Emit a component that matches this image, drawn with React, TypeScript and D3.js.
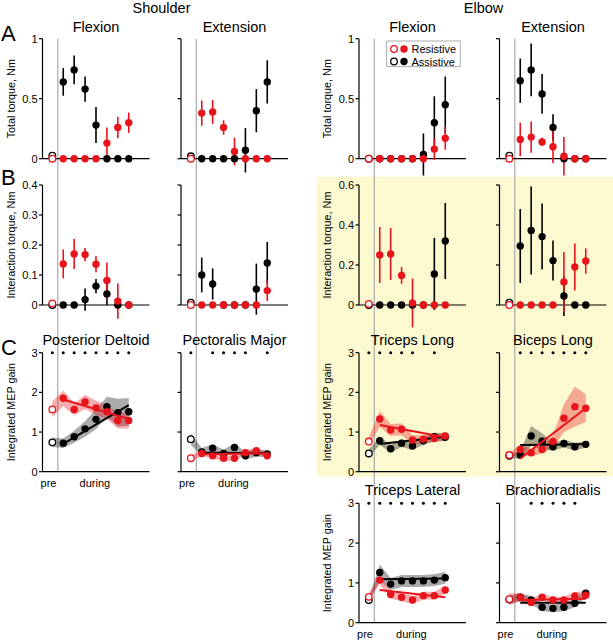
import * as d3 from 'd3';

const RED = '#e8141c';
const FONT = 'Liberation Sans, Arial, sans-serif';

// x positions: 0 = pre, 1..7 = during
const phases = [0, 1, 2, 3, 4, 5, 6, 7];

// A: total torque, Nm
const shFlexTotRes = [0, 0, 0, 0, 0, 0.13, 0.26, 0.3];
const shFlexTotResErr = [0, 0, 0, 0, 0, 0.13, 0.09, 0.085];
const shFlexTotAst = [0.025, 0.64, 0.74, 0.58, 0.28, 0, 0, 0];
const shFlexTotAstErr = [0, 0.115, 0.12, 0.105, 0.15, 0, 0, 0];

const shExtTotRes = [0, 0.38, 0.39, 0.26, 0.06, 0, 0, 0];
const shExtTotResErr = [0, 0.105, 0.1, 0.06, 0.115, 0, 0, 0];
const shExtTotAst = [0.02, 0, 0, 0, 0, 0.07, 0.4, 0.64];
const shExtTotAstErr = [0, 0, 0, 0, 0, 0.185, 0.18, 0.18];

const elFlexTotRes = [0, 0, 0, 0, 0, 0, 0.08, 0.17];
const elFlexTotResErr = [0, 0, 0, 0, 0, 0, 0.09, 0.095];
const elFlexTotAst = [0, 0, 0, 0, 0, 0.035, 0.3, 0.45];
const elFlexTotAstErr = [0, 0, 0, 0, 0, 0.175, 0.22, 0.235];

const elExtTotRes = [0, 0.16, 0.18, 0.14, 0.1, 0.02, 0, 0];
const elExtTotResErr = [0, 0.14, 0.13, 0.035, 0.135, 0.16, 0, 0];
const elExtTotAst = [0.025, 0.65, 0.74, 0.54, 0.26, 0, 0, 0];
const elExtTotAstErr = [0, 0.185, 0.22, 0.165, 0.11, 0, 0, 0];

// B: interaction torque, Nm
const shFlexIntRes = [0.005, 0.137, 0.17, 0.168, 0.136, 0.082, 0.013, 0];
const shFlexIntResErr = [0, 0.048, 0.05, 0.022, 0.027, 0.06, 0.059, 0];
const shFlexIntAst = [0, 0, 0, 0.018, 0.063, 0.037, 0, 0];
const shFlexIntAstErr = [0, 0, 0, 0.037, 0.024, 0.038, 0, 0];

const shExtIntRes = [0, 0, 0, 0, 0, 0, 0, 0.048];
const shExtIntResErr = [0, 0, 0, 0, 0, 0, 0, 0.035];
const shExtIntAst = [0.008, 0.1, 0.07, 0, 0, 0, 0.053, 0.14];
const shExtIntAstErr = [0, 0.058, 0.052, 0, 0, 0, 0.085, 0.07];

const elFlexIntRes = [0.005, 0.25, 0.255, 0.148, 0.01, 0, 0, 0];
const elFlexIntResErr = [0, 0.14, 0.13, 0.042, 0.122, 0, 0, 0];
const elFlexIntAst = [0, 0, 0, 0, 0, 0, 0.155, 0.32];
const elFlexIntAstErr = [0, 0, 0, 0, 0, 0, 0.18, 0.19];

const elExtIntRes = [0, 0, 0, 0, 0, 0.115, 0.19, 0.22];
const elExtIntResErr = [0, 0, 0, 0, 0, 0.15, 0.118, 0.063];
const elExtIntAst = [0.012, 0.295, 0.373, 0.342, 0.222, 0.045, 0, 0];
const elExtIntAstErr = [0, 0.185, 0.22, 0.165, 0.1, 0.1, 0, 0];

// C: integrated MEP gain
const postDeltRes = [1.57, 1.85, 1.57, 1.76, 1.61, 1.51, 1.29, 1.29];
const postDeltResBand = [0.2, 0.2, 0.15, 0.18, 0.18, 0.18, 0.2, 0.2];
const postDeltAst = [0.74, 0.72, 0.88, 1.08, 1.32, 1.64, 1.49, 1.51];
const postDeltAstBand = [0.12, 0.12, 0.15, 0.2, 0.25, 0.25, 0.35, 0.35];
const postDeltResFit = [1.82, 1.33];
const postDeltAstFit = [0.7, 1.68];
const postDeltSig = [0, 1, 2, 3, 4, 5, 6, 7];

const pectRes = [0.34, 0.46, 0.4, 0.34, 0.34, 0.48, 0.53, 0.4];
const pectResBand = [0.08, 0.07, 0.07, 0.07, 0.07, 0.07, 0.07, 0.07];
const pectAst = [0.82, 0.5, 0.59, 0.46, 0.61, 0.4, 0.48, 0.45];
const pectAstBand = [0.15, 0.1, 0.1, 0.1, 0.1, 0.1, 0.1, 0.08];
const pectResFit = [0.44, 0.46];
const pectAstFit = [0.48, 0.47];
const pectSig = [0, 2, 3, 4, 5, 7];

const tricLongRes = [0.76, 1.33, 1.05, 1.07, 0.8, 0.82, 0.84, 0.9];
const tricLongResBand = [0.1, 0.2, 0.15, 0.15, 0.12, 0.1, 0.1, 0.1];
const tricLongAst = [0.46, 0.78, 0.58, 0.72, 0.65, 0.78, 0.88, 0.87];
const tricLongAstBand = [0.1, 0.1, 0.1, 0.1, 0.1, 0.1, 0.1, 0.1];
const tricLongResFit = [1.18, 0.87];
const tricLongAstFit = [0.7, 0.88];
const tricLongSig = [0, 1, 2, 3, 4, 6];

const bicLongRes = [0.42, 0.56, 0.48, 0.56, 0.76, 1.35, 1.64, 1.6];
const bicLongResBand = [0.05, 0.12, 0.1, 0.1, 0.15, 0.35, 0.5, 0.35];
const bicLongAst = [0.4, 0.42, 0.9, 0.77, 0.63, 0.71, 0.63, 0.69];
const bicLongAstBand = [0.05, 0.1, 0.25, 0.2, 0.1, 0.1, 0.1, 0.08];
const bicLongResFit = [0.33, 1.6];
const bicLongAstFit = [0.67, 0.69];
const bicLongSig = [1, 2, 3, 4, 5, 6, 7];

const tricLatRes = [0.65, 1.07, 0.71, 0.64, 0.57, 0.68, 0.68, 0.82];
const tricLatResBand = [0.1, 0.1, 0.1, 0.1, 0.1, 0.1, 0.1, 0.1];
const tricLatAst = [0.57, 1.26, 0.97, 1.05, 1.05, 1.05, 1.07, 1.13];
const tricLatAstBand = [0.05, 0.2, 0.15, 0.15, 0.15, 0.15, 0.15, 0.15];
const tricLatResFit = [0.82, 0.64];
const tricLatAstFit = [1.09, 1.11];
const tricLatSig = [0, 1, 2, 3, 4, 5, 6, 7];

const brachRes = [0.59, 0.64, 0.51, 0.64, 0.57, 0.57, 0.67, 0.69];
const brachResBand = [0.15, 0.1, 0.1, 0.08, 0.08, 0.08, 0.1, 0.1];
const brachAst = [0.58, 0.64, 0.57, 0.39, 0.36, 0.39, 0.49, 0.74];
const brachAstBand = [0.1, 0.1, 0.1, 0.1, 0.1, 0.1, 0.1, 0.1];
const brachResFit = [0.57, 0.6];
const brachAstFit = [0.5, 0.5];
const brachSig = [2, 3, 4, 5, 6];

const totTicks = [0, 0.5, 1];
const shIntTicks = [0, 0.1, 0.2, 0.3, 0.4];
const elIntTicks = [0, 0.2, 0.4, 0.6];
const mepTicks = [0, 1, 2, 3];

// layout
const colX = [42.5, 181, 359, 499.5];
const PW = 107;
const rowA = { y0: 158.7, y1: 38.7 };
const rowB = { y0: 305, y1: 185 };
const rowC = { y0: 471.7, y1: 352.7 };
const rowD = { y0: 622.7, y1: 503.3 };

const xScale = (x0: number) => d3.scaleLinear().domain([-0.9, 8.9]).range([x0, x0 + PW]);

function YAxis({ x0, y, ticks, labels, label }: any) {
  const [lo, hi] = y.domain();
  return (
    <g>
      <line x1={x0} x2={x0} y1={y(hi)} y2={y(lo)} stroke="#000" strokeWidth={1.2} />
      {ticks.map((t: number) => (
        <g key={t}>
          <line x1={x0 - 3.5} x2={x0} y1={y(t)} y2={y(t)} stroke="#000" strokeWidth={1.2} />
          {labels && (
            <text x={x0 - 5} y={y(t) + 4} textAnchor="end" fontSize={11}>
              {String(t)}
            </text>
          )}
        </g>
      ))}
      {label && (
        <text
          transform={`translate(${x0 - 28},${(y(hi) + y(lo)) / 2}) rotate(-90)`}
          textAnchor="middle"
          fontSize={10.8}
        >
          {label}
        </text>
      )}
      <line x1={x0} x2={x0 + PW} y1={y(lo)} y2={y(lo)} stroke="#000" strokeWidth={1.2} />
    </g>
  );
}

function Dots({ x, y, vals, color }: any) {
  return (
    <g>
      {phases.map((k) =>
        k === 0 ? (
          <circle key={k} cx={x(k)} cy={y(vals[k])} r={3.3} fill="#fff" stroke={color} strokeWidth={1.3} />
        ) : (
          <circle key={k} cx={x(k)} cy={y(vals[k])} r={3.7} fill={color} />
        )
      )}
    </g>
  );
}

function TorquePanel({ x0, row, max, ticks, labels, res, resErr, ast, astErr, label }: any) {
  const x = xScale(x0);
  const y = d3.scaleLinear().domain([0, max]).range([row.y0, row.y1]);
  const bars = (vals: number[], err: number[], color: string) =>
    phases
      .filter((k) => err[k] > 0)
      .map((k) => (
        <line
          key={color + k}
          x1={x(k)}
          x2={x(k)}
          y1={y(vals[k] - err[k])}
          y2={y(vals[k] + err[k])}
          stroke={color}
          strokeWidth={1.6}
        />
      ));
  return (
    <g>
      <YAxis x0={x0} y={y} ticks={ticks} labels={labels} label={label} />
      {bars(ast, astErr, '#000')}
      {bars(res, resErr, RED)}
      <Dots x={x} y={y} vals={ast} color="#000" />
      <Dots x={x} y={y} vals={res} color={RED} />
    </g>
  );
}

function MepPanel({ x0, row, labels, phaseText, res, resBand, ast, astBand, resFit, astFit, sig, title, label }: any) {
  const x = xScale(x0);
  const y = d3.scaleLinear().domain([0, 3]).range([row.y0, row.y1]);
  const band = (vals: number[], b: number[]) =>
    d3
      .area<number>()
      .x((k) => x(k))
      .y0((k) => y(vals[k] - b[k]))
      .y1((k) => y(vals[k] + b[k]))(phases) as string;
  const fit = (f: number[]) => d3.line<number>().x((d, i) => x(i === 0 ? 1 : 7)).y((d) => y(d))(f) as string;
  return (
    <g>
      <text x={x0 + 53.5} y={row.y1 - 8} textAnchor="middle" fontSize={14.5}>
        {title}
      </text>
      <YAxis x0={x0} y={y} ticks={mepTicks} labels={labels} label={label} />
      {sig.map((k: number) => (
        <circle key={k} cx={x(k)} cy={y(3)} r={1.5} fill="#000" />
      ))}
      <path d={band(ast, astBand)} fill="#000" fillOpacity={0.33} />
      <path d={band(res, resBand)} fill={RED} fillOpacity={0.35} />
      <path d={fit(astFit)} stroke="#000" strokeWidth={2} fill="none" />
      <Dots x={x} y={y} vals={ast} color="#000" />
      <path d={fit(resFit)} stroke={RED} strokeWidth={2} fill="none" />
      <Dots x={x} y={y} vals={res} color={RED} />
      {phaseText && (
        <g>
          <text x={x(-0.35)} y={row.y0 + 15.5} textAnchor="middle" fontSize={11}>
            pre
          </text>
          <text x={x(3.9)} y={row.y0 + 15.5} textAnchor="middle" fontSize={11}>
            during
          </text>
        </g>
      )}
    </g>
  );
}

export default function App() {
  const gx = colX.map((c) => xScale(c)(0.5));
  return (
    <svg
      width={613}
      height={640}
      style={{ position: 'absolute', left: 0, top: 0, background: '#fff' }}
      fontFamily={FONT}
    >
      <rect x={316.7} y={176.7} width={613 - 316.7} height={300} fill="#fcf9d0" />
      {gx.map((g, i) => (
        <line key={i} x1={g} x2={g} y1={38.7} y2={i < 2 ? rowC.y0 : rowD.y0} stroke="#aaa" strokeWidth={1.2} />
      ))}

      <text x={161.5} y={12.5} textAnchor="middle" fontSize={14.5}>Shoulder</text>
      <text x={483.5} y={12.5} textAnchor="middle" fontSize={14.5}>Elbow</text>
      {['Flexion', 'Extension', 'Flexion', 'Extension'].map((t, i) => (
        <text key={i} x={colX[i] + 53.5} y={31.5} textAnchor="middle" fontSize={14.5}>
          {t}
        </text>
      ))}
      <text x={1} y={41} fontSize={22}>A</text>
      <text x={1} y={185} fontSize={22}>B</text>
      <text x={1} y={355} fontSize={22}>C</text>

      <TorquePanel x0={colX[0]} row={rowA} max={1} ticks={totTicks} labels res={shFlexTotRes} resErr={shFlexTotResErr} ast={shFlexTotAst} astErr={shFlexTotAstErr} label="Total torque, Nm" />
      <TorquePanel x0={colX[1]} row={rowA} max={1} ticks={totTicks} labels={false} res={shExtTotRes} resErr={shExtTotResErr} ast={shExtTotAst} astErr={shExtTotAstErr} />
      <TorquePanel x0={colX[2]} row={rowA} max={1} ticks={totTicks} labels res={elFlexTotRes} resErr={elFlexTotResErr} ast={elFlexTotAst} astErr={elFlexTotAstErr} label="Total torque, Nm" />
      <TorquePanel x0={colX[3]} row={rowA} max={1} ticks={totTicks} labels={false} res={elExtTotRes} resErr={elExtTotResErr} ast={elExtTotAst} astErr={elExtTotAstErr} />

      <TorquePanel x0={colX[0]} row={rowB} max={0.4} ticks={shIntTicks} labels res={shFlexIntRes} resErr={shFlexIntResErr} ast={shFlexIntAst} astErr={shFlexIntAstErr} label="Interaction torque, Nm" />
      <TorquePanel x0={colX[1]} row={rowB} max={0.4} ticks={shIntTicks} labels={false} res={shExtIntRes} resErr={shExtIntResErr} ast={shExtIntAst} astErr={shExtIntAstErr} />
      <TorquePanel x0={colX[2]} row={rowB} max={0.6} ticks={elIntTicks} labels res={elFlexIntRes} resErr={elFlexIntResErr} ast={elFlexIntAst} astErr={elFlexIntAstErr} label="Interaction torque, Nm" />
      <TorquePanel x0={colX[3]} row={rowB} max={0.6} ticks={elIntTicks} labels={false} res={elExtIntRes} resErr={elExtIntResErr} ast={elExtIntAst} astErr={elExtIntAstErr} />

      <MepPanel x0={colX[0]} row={rowC} labels phaseText title="Posterior Deltoid" label="Integrated MEP gain" res={postDeltRes} resBand={postDeltResBand} ast={postDeltAst} astBand={postDeltAstBand} resFit={postDeltResFit} astFit={postDeltAstFit} sig={postDeltSig} />
      <MepPanel x0={colX[1]} row={rowC} labels={false} phaseText title="Pectoralis Major" res={pectRes} resBand={pectResBand} ast={pectAst} astBand={pectAstBand} resFit={pectResFit} astFit={pectAstFit} sig={pectSig} />
      <MepPanel x0={colX[2]} row={rowC} labels phaseText={false} title="Triceps Long" label="Integrated MEP gain" res={tricLongRes} resBand={tricLongResBand} ast={tricLongAst} astBand={tricLongAstBand} resFit={tricLongResFit} astFit={tricLongAstFit} sig={tricLongSig} />
      <MepPanel x0={colX[3]} row={rowC} labels={false} phaseText={false} title="Biceps Long" res={bicLongRes} resBand={bicLongResBand} ast={bicLongAst} astBand={bicLongAstBand} resFit={bicLongResFit} astFit={bicLongAstFit} sig={bicLongSig} />
      <MepPanel x0={colX[2]} row={rowD} labels phaseText title="Triceps Lateral" label="Integrated MEP gain" res={tricLatRes} resBand={tricLatResBand} ast={tricLatAst} astBand={tricLatAstBand} resFit={tricLatResFit} astFit={tricLatAstFit} sig={tricLatSig} />
      <MepPanel x0={colX[3]} row={rowD} labels={false} phaseText title="Brachioradialis" res={brachRes} resBand={brachResBand} ast={brachAst} astBand={brachAstBand} resFit={brachResFit} astFit={brachAstFit} sig={brachSig} />

      {/* legend */}
      <g>
        <rect x={386.7} y={41} width={73.5} height={25.7} fill="#fff" stroke="#999" strokeWidth={0.8} />
        <circle cx={394} cy={49} r={3.3} fill="#fff" stroke={RED} strokeWidth={1.3} />
        <circle cx={404} cy={49} r={3.7} fill={RED} />
        <text x={411.5} y={53} fontSize={11}>Resistive</text>
        <circle cx={394} cy={61.5} r={3.3} fill="#fff" stroke="#000" strokeWidth={1.3} />
        <circle cx={404} cy={61.5} r={3.7} fill="#000" />
        <text x={411.5} y={65.5} fontSize={11}>Assistive</text>
      </g>
    </svg>
  );
}
